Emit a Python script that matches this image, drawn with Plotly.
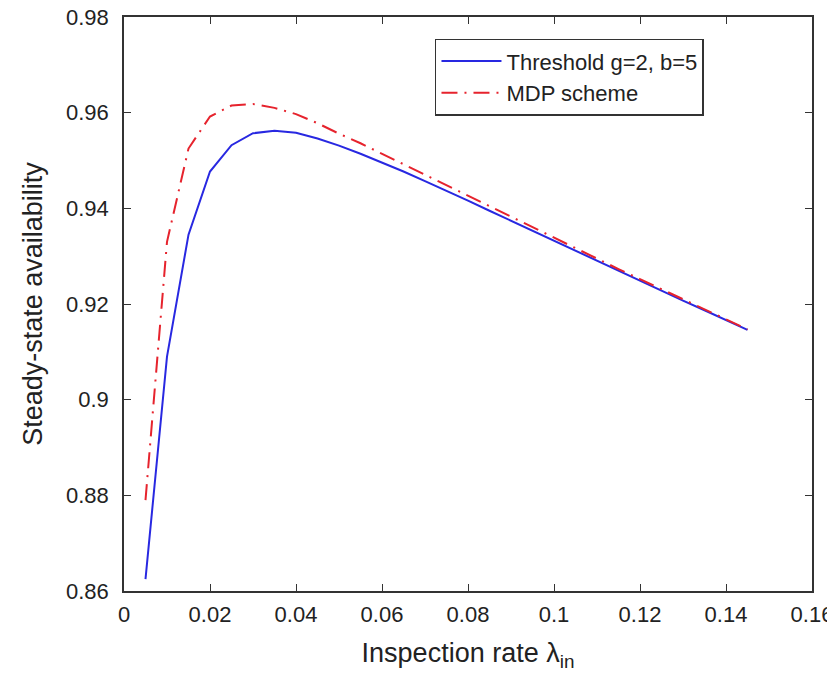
import plotly.graph_objects as go

# inspection rate values (x axis)
inspection_rate = [0.005, 0.010, 0.015, 0.020, 0.025, 0.030, 0.035, 0.040, 0.045, 0.050,
                   0.055, 0.060, 0.065, 0.070, 0.075, 0.080, 0.085, 0.090, 0.095, 0.100,
                   0.105, 0.110, 0.115, 0.120, 0.125, 0.130, 0.135, 0.140, 0.145]

# threshold policy g=2, b=5
threshold_avail = [0.8625, 0.9090, 0.9345, 0.9477, 0.9532, 0.9557, 0.9562, 0.9558, 0.9546, 0.9531,
                   0.9514, 0.9496, 0.9477, 0.9457, 0.9437, 0.9416, 0.9395, 0.9374, 0.9353, 0.9332,
                   0.9311, 0.9290, 0.9269, 0.9248, 0.9228, 0.9207, 0.9187, 0.9166, 0.9146]

# MDP scheme
mdp_avail = [0.8790, 0.9330, 0.9525, 0.9592, 0.9615, 0.9618, 0.9610, 0.9597, 0.9578, 0.9556,
             0.9536, 0.9514, 0.9492, 0.9470, 0.9448, 0.9426, 0.9404, 0.9382, 0.9360, 0.9338,
             0.9316, 0.9294, 0.9273, 0.9252, 0.9231, 0.9210, 0.9189, 0.9168, 0.9147]

x_ticks = [0, 0.02, 0.04, 0.06, 0.08, 0.1, 0.12, 0.14, 0.16]
x_labels = ['0', '0.02', '0.04', '0.06', '0.08', '0.1', '0.12', '0.14', '0.16']
y_ticks = [0.86, 0.88, 0.9, 0.92, 0.94, 0.96, 0.98]
y_labels = ['0.86', '0.88', '0.9', '0.92', '0.94', '0.96', '0.98']

font_family = "Liberation Sans, Arial, sans-serif"

fig = go.Figure()

fig.add_trace(go.Scatter(
    x=inspection_rate,
    y=threshold_avail,
    mode='lines',
    name='Threshold g=2, b=5',
    line=dict(color='rgb(40,40,225)', width=2)
))

fig.add_trace(go.Scatter(
    x=inspection_rate,
    y=mdp_avail,
    mode='lines',
    name='MDP scheme',
    line=dict(color='rgb(230,35,45)', width=2, dash='16px,7px,2px,7px')
))

axis_common = dict(
    showline=True,
    linecolor='#333333',
    linewidth=1.5,
    mirror='ticks',
    ticks='inside',
    ticklen=7,
    tickcolor='#333333',
    showgrid=False,
    zeroline=False,
    automargin=False,
    ticklabeloverflow='allow',
    tickfont=dict(size=22, color='#222222', family=font_family),
)

fig.update_xaxes(
    range=[0, 0.16],
    tickvals=x_ticks,
    ticktext=x_labels,
    ticklabelstandoff=3,
    title=dict(text='Inspection rate λ<sub>in</sub>', font=dict(size=27, color='#222222', family=font_family),
               standoff=17),
    **axis_common
)

fig.update_yaxes(
    range=[0.86, 0.98],
    tickvals=y_ticks,
    ticktext=y_labels,
    ticklabelstandoff=9,
    title=dict(text='Steady-state availability', font=dict(size=27, color='#222222', family=font_family),
               standoff=16),
    **axis_common
)

# the page body adds 8px before the figure, so margins are shifted by that much
fig.update_layout(
    width=827,
    height=668,
    margin=dict(l=116, r=23, t=9, b=85),
    plot_bgcolor='white',
    paper_bgcolor='white',
    showlegend=True,
    legend=dict(
        x=0.452,
        y=0.962,
        xanchor='left',
        yanchor='top',
        bgcolor='white',
        bordercolor='#333333',
        borderwidth=1.5,
        font=dict(size=22, color='#222222', family=font_family),
        tracegroupgap=0,
        itemwidth=60,
    ),
)

fig.write_html("out.html")
